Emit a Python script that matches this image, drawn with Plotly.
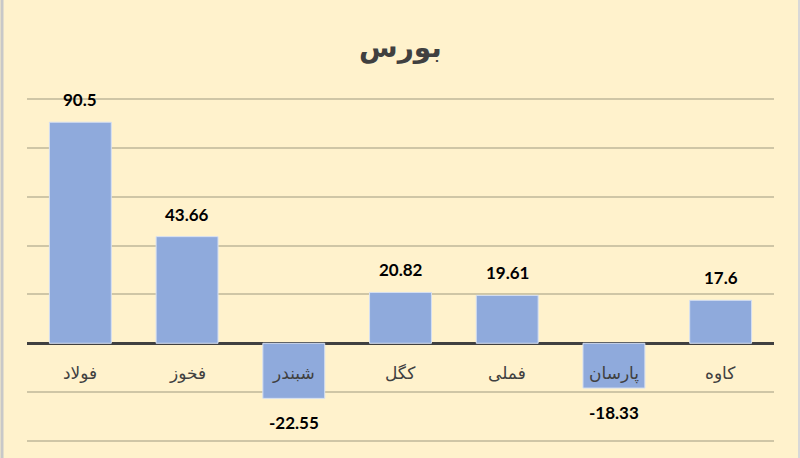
import plotly.graph_objects as go

categories = ["فولاد", "فخوز", "شبندر", "کگل", "فملی", "پارسان", "کاوه"]
values = [90.5, 43.66, -22.55, 20.82, 19.61, -18.33, 17.6]
value_labels = ["90.5", "43.66", "-22.55", "20.82", "19.61", "-18.33", "17.6"]
grid_values = [-40, -20, 20, 40, 60, 80, 100]
title_text = "بورس"

W, H = 800, 458
ml, mr, mt, mb = 27, 26, 95, 13
ymin, ymax = -40, 100
pad = 4 * 140 / 342.0  # four pixels in data units
plot_h = H - mt - mb

fig = go.Figure()
fig.add_trace(go.Bar(
    x=categories, y=values,
    marker=dict(color="#8FAADC", line=dict(color="#D6E0F2", width=1)),
    width=0.58,
    hoverinfo="skip",
))

annotations = []
for c, v, t in zip(categories, values, value_labels):
    annotations.append(dict(
        x=c, y=v, xref="x", yref="y", text="<b>%s</b>" % t, showarrow=False,
        yanchor="bottom" if v >= 0 else "top",
        yshift=10 if v >= 0 else -12,
        font=dict(family="Lato, 'Open Sans', sans-serif", size=17, color="#000000"),
    ))
    annotations.append(dict(
        x=c, y=0, xref="x", yref="y", text=c, showarrow=False,
        yanchor="middle", yshift=-30,
        font=dict(family="DejaVu Sans, sans-serif", size=17, color="#404040"),
    ))

annotations.append(dict(
    x=0.5, xref="paper", y=(H - mb - 48) / plot_h, yref="paper",
    text="<b>%s</b>" % title_text,
    showarrow=False, yanchor="middle",
    font=dict(family="DejaVu Sans, sans-serif", size=28, color="#404040"),
))

fig.update_layout(
    width=W, height=H,
    margin=dict(l=ml, r=mr, t=mt, b=mb, pad=0),
    paper_bgcolor="#FFF2CC", plot_bgcolor="#FFF2CC",
    showlegend=False,
    annotations=annotations,
    xaxis=dict(showticklabels=False, showgrid=False, zeroline=False, ticks="",
               fixedrange=True),
    yaxis=dict(range=[ymin - pad, ymax + pad], tickvals=grid_values,
               showticklabels=False,
               gridcolor="#CFC6A6", gridwidth=1.5,
               zeroline=True, zerolinecolor="#404040", zerolinewidth=2.5,
               ticks="", fixedrange=True),
    shapes=[
        dict(type="line", xref="paper", yref="paper",
             x0=-(ml - 2) / (W - ml - mr), x1=-(ml - 2) / (W - ml - mr),
             y0=-mb / plot_h, y1=(H - mb) / plot_h,
             line=dict(color="#C8C8C8", width=3)),
        dict(type="line", xref="paper", yref="paper",
             x0=1 + (mr - 1) / (W - ml - mr), x1=1 + (mr - 1) / (W - ml - mr),
             y0=-mb / plot_h, y1=(H - mb) / plot_h,
             line=dict(color="#D8D8D8", width=2)),
    ],
)

fig.write_html(
    "out.html",
    config={"displayModeBar": False},
    post_script="document.body.style.margin='0';document.body.style.background='#FFF2CC';",
)
